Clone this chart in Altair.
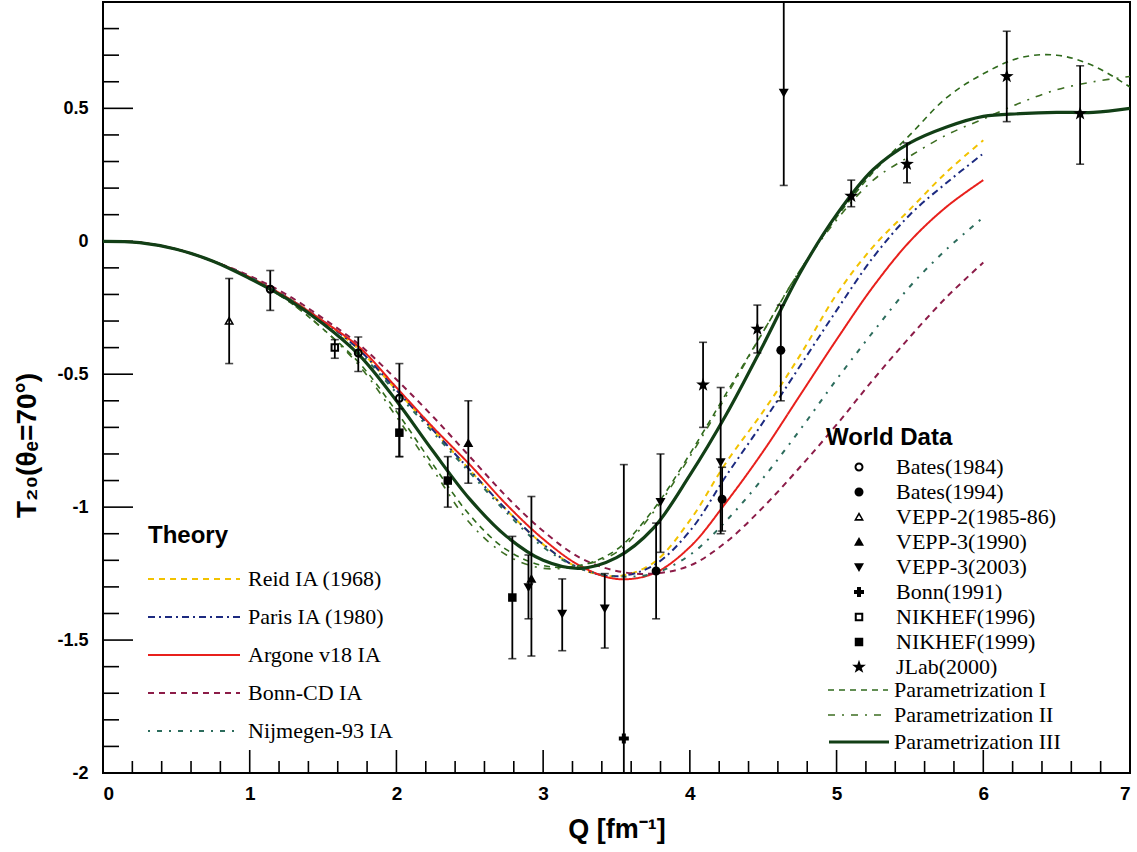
import altair as alt
import pandas as pd

# ---------------- data ----------------
Q_TH = [0, 0.25, 0.5, 0.75, 1.0, 1.25, 1.5, 1.75, 2.0, 2.25, 2.5, 2.75, 3.0,
        3.25, 3.5, 3.75, 4.0, 4.25, 4.5, 4.75, 5.0, 5.25, 5.5, 5.75, 6.0]
REID = [0, -0.005, -0.03, -0.075, -0.135, -0.21, -0.30, -0.41, -0.56, -0.71, -0.86, -1.01, -1.14,
        -1.23, -1.26, -1.21, -1.05, -0.83, -0.64, -0.43, -0.20, -0.02, 0.12, 0.26, 0.38]
PARIS = [0, -0.005, -0.03, -0.075, -0.135, -0.21, -0.30, -0.41, -0.56, -0.71, -0.86, -1.01, -1.14,
         -1.23, -1.26, -1.22, -1.09, -0.88, -0.68, -0.47, -0.26, -0.06, 0.10, 0.22, 0.33]
AV18 = [0, -0.005, -0.03, -0.075, -0.135, -0.21, -0.30, -0.40, -0.55, -0.70, -0.84, -0.99, -1.12,
        -1.22, -1.27, -1.25, -1.15, -0.98, -0.79, -0.58, -0.37, -0.17, 0.0, 0.13, 0.23]
BONN_CD = [0, -0.005, -0.03, -0.075, -0.13, -0.20, -0.29, -0.39, -0.52, -0.66, -0.81, -0.96, -1.09,
           -1.19, -1.24, -1.25, -1.22, -1.13, -1.00, -0.85, -0.69, -0.52, -0.36, -0.21, -0.08]
NIJM93 = [0, -0.005, -0.03, -0.075, -0.135, -0.21, -0.31, -0.42, -0.57, -0.72, -0.87, -1.02, -1.15,
          -1.23, -1.26, -1.25, -1.18, -1.05, -0.89, -0.71, -0.52, -0.34, -0.17, -0.03, 0.09]

Q_PAR = [0, 0.25, 0.5, 0.75, 1.0, 1.25, 1.5, 1.75, 2.0, 2.25, 2.5, 2.75, 3.0, 3.25, 3.5,
         3.75, 4.0, 4.25, 4.5, 4.75, 5.0, 5.25, 5.5, 5.75, 6.0, 6.25, 6.5, 6.75, 7.0]
PAR_I = [0, -0.005, -0.03, -0.075, -0.14, -0.22, -0.33, -0.46, -0.64, -0.84, -1.03, -1.16, -1.22,
         -1.22, -1.16, -1.01, -0.80, -0.57, -0.34, -0.11, 0.09, 0.26, 0.40, 0.54, 0.63, 0.69, 0.70, 0.66, 0.58]
PAR_II = [0, -0.005, -0.03, -0.075, -0.14, -0.22, -0.33, -0.47, -0.66, -0.86, -1.06, -1.18, -1.23,
          -1.22, -1.17, -1.02, -0.81, -0.58, -0.34, -0.11, 0.08, 0.23, 0.32, 0.40, 0.46, 0.52, 0.57, 0.60, 0.62]
PAR_III = [0, -0.005, -0.03, -0.075, -0.14, -0.215, -0.31, -0.43, -0.60, -0.79, -0.97, -1.11, -1.20,
           -1.23, -1.19, -1.08, -0.88, -0.65, -0.39, -0.12, 0.10, 0.27, 0.37, 0.43, 0.47, 0.48, 0.485, 0.485, 0.50]

THEORY_NAMES = ["Reid IA (1968)", "Paris IA (1980)", "Argone v18 IA", "Bonn-CD IA", "Nijmegen-93 IA"]
THEORY_COLORS = ["#f2c200", "#1c2a80", "#e8201c", "#8c1c48", "#2c6c5c"]
THEORY_DASHES = [[6, 5], [7, 4, 2, 4], [1, 0], [6, 5], [2, 7, 5, 7]]

PARAM_NAMES = ["Parametrization I", "Parametrization II"]
PARAM_COLORS = ["#2f6a1c", "#3d6e22"]
PARAM_DASHES = [[6, 5], [7, 7, 2, 7]]
PARAM3_NAME = ["Parametrization III"]
PARAM3_COLOR = ["#123f16"]

DATASETS = ["Bates(1984)", "Bates(1994)", "VEPP-2(1985-86)", "VEPP-3(1990)", "VEPP-3(2003)",
            "Bonn(1991)", "NIKHEF(1996)", "NIKHEF(1999)", "JLab(2000)"]
# marker outlines (unit box, scaled by the mark size)
DOT = "M0.9,0A0.9,0.9 0 1,1 -0.9,0A0.9,0.9 0 1,1 0.9,0Z"
RING = "M0.9,0A0.9,0.9 0 1,1 -0.9,0A0.9,0.9 0 1,1 0.9,0ZM0.5,0A0.5,0.5 0 1,0 -0.5,0A0.5,0.5 0 1,0 0.5,0Z"
TRI_UP = "M0,-1L1,0.75L-1,0.75Z"
OPEN_TRI = "M0,-1L1,0.75L-1,0.75ZM0,-0.35L-0.48,0.42L0.48,0.42Z"
TRI_DOWN = "M0,1L1,-0.75L-1,-0.75Z"
PLUS = "M-0.4,-1H0.4V-0.4H1V0.4H0.4V1H-0.4V0.4H-1V-0.4H-0.4Z"
SQ = "M-0.85,-0.85H0.85V0.85H-0.85Z"
OPEN_SQ = "M-0.85,-0.85H0.85V0.85H-0.85ZM-0.45,-0.45V0.45H0.45V-0.45Z"
STAR = "M0,-1.45L0.34,-0.47L1.38,-0.45L0.55,0.18L0.85,1.17L0,0.58L-0.85,1.17L-0.55,0.18L-1.38,-0.45L-0.34,-0.47Z"
DS_SHAPES = [RING, DOT, OPEN_TRI, TRI_UP, TRI_DOWN, PLUS, OPEN_SQ, SQ, STAR]

PT_SET = ["VEPP-2(1985-86)", "Bates(1984)", "NIKHEF(1996)", "Bates(1984)", "Bates(1984)",
          "NIKHEF(1999)", "NIKHEF(1999)", "VEPP-3(1990)", "NIKHEF(1999)", "VEPP-3(2003)",
          "VEPP-3(1990)", "VEPP-3(2003)", "VEPP-3(2003)", "Bonn(1991)", "Bates(1994)",
          "VEPP-3(2003)", "JLab(2000)", "VEPP-3(2003)", "Bates(1994)", "JLab(2000)",
          "Bates(1994)", "VEPP-3(2003)", "JLab(2000)", "JLab(2000)", "JLab(2000)", "JLab(2000)"]
PT_Q = [0.86, 1.14, 1.58, 1.74, 2.02, 2.02, 2.35, 2.49, 2.79, 2.90, 2.92, 3.13, 3.42, 3.55, 3.77,
        3.80, 4.09, 4.21, 4.22, 4.46, 4.62, 4.64, 5.10, 5.48, 6.16, 6.66]
PT_T = [-0.30, -0.18, -0.40, -0.42, -0.59, -0.72, -0.90, -0.76, -1.34, -1.30, -1.27, -1.40, -1.38,
        -1.87, -1.24, -0.98, -0.54, -0.83, -0.97, -0.33, -0.41, 0.56, 0.17, 0.29, 0.62, 0.48]
PT_LO = [-0.46, -0.26, -0.44, -0.49, -0.81, -0.81, -1.00, -0.91, -1.57, -1.42, -1.56, -1.54, -1.53,
         -2.05, -1.42, -1.17, -0.70, -1.10, -1.09, -0.42, -0.60, 0.21, 0.13, 0.22, 0.45, 0.29]
PT_HI = [-0.14, -0.11, -0.37, -0.36, -0.46, -0.63, -0.81, -0.60, -1.11, -1.18, -0.96, -1.27, -1.25,
         -0.84, -1.06, -0.80, -0.38, -0.55, -0.85, -0.24, -0.24, 1.00, 0.23, 0.37, 0.79, 0.66]

X_MAJOR = [0, 1, 2, 3, 4, 5, 6, 7]
X_MINOR = [i / 5 for i in range(36) if i % 5 != 0]
Y_MAJOR = [-2, -1.5, -1, -0.5, 0, 0.5]
Y_MINOR = [round(-2 + i / 10, 2) for i in range(30) if i % 5 != 0]

# ---------------- tables ----------------
theory_df = pd.DataFrame(
    [{"Q": q, "T": t, "model": n}
     for n, vals in zip(THEORY_NAMES, [REID, PARIS, AV18, BONN_CD, NIJM93])
     for q, t in zip(Q_TH, vals)])
param_df = pd.DataFrame(
    [{"Q": q, "T": t, "param": n}
     for n, vals in zip(PARAM_NAMES, [PAR_I, PAR_II])
     for q, t in zip(Q_PAR, vals)])
param3_df = pd.DataFrame({"Q": Q_PAR, "T": PAR_III, "param3": PARAM3_NAME * len(Q_PAR)})
pts_df = pd.DataFrame({"dataset": PT_SET, "Q": PT_Q, "T": PT_T, "lo": PT_LO, "hi": PT_HI})
xmaj_df = pd.DataFrame({"Q": X_MAJOR})
xmin_df = pd.DataFrame({"Q": X_MINOR})
ymaj_df = pd.DataFrame({"T": Y_MAJOR})
ymin_df = pd.DataFrame({"T": Y_MINOR})

W, H = 1027, 771
AXFONT = "Liberation Sans Narrow, Liberation Sans, Arial"
SERIF = "Liberation Serif, Times New Roman, serif"
SANS = "Liberation Sans, Arial, sans-serif"
INTERP = "catmull-rom"

xs = alt.Scale(domain=[0, 7], nice=False, zero=False)
ys = alt.Scale(domain=[-2, 0.9], nice=False, zero=False)
X_AXIS = alt.Axis(values=X_MAJOR, title="Q [fm⁻¹]", labelFont=AXFONT, labelFontSize=19,
                  labelFontWeight="bold", labelPadding=11, titleFont=SANS, titleFontSize=27,
                  titleFontWeight="bold", titleY=64, titleBaseline="alphabetic",
                  labelExpr="datum.value + ''")
Y_AXIS = alt.Axis(values=Y_MAJOR, title="T₂₀(θₑ=70°)", labelFont=AXFONT, labelFontSize=18,
                  labelFontWeight="bold", labelPadding=15, titleFont=SANS, titleFontSize=28,
                  titleFontWeight="bold", titleX=-76, titleY=443, titleAngle=270,
                  titleAlign="center", titleBaseline="middle",
                  labelExpr="datum.value + ''")


def xq(field="Q"):
    return alt.X(f"{field}:Q", scale=xs, axis=X_AXIS)


def yq(field="T"):
    return alt.Y(f"{field}:Q", scale=ys, axis=Y_AXIS)


LINE92 = "M-4.6,0L4.6,0"
LINE60 = "M-3,0L3,0"

theory_leg = alt.Legend(title="Theory", orient="none", legendX=45, legendY=522, padding=0,
                        symbolType=LINE92, symbolSize=400, symbolStrokeWidth=2,
                        labelFont=SERIF, labelFontSize=22, labelColor="black", labelOffset=43,
                        symbolOffset=35, labelLimit=400,
                        titleFont=SANS, titleFontSize=24, titleFontWeight="bold",
                        titleColor="black", titlePadding=20, rowPadding=16)
theory = alt.Chart(theory_df).mark_line(strokeWidth=2, interpolate=INTERP, clip=True).encode(
    x=xq(), y=yq(),
    color=alt.Color("model:N", scale=alt.Scale(domain=THEORY_NAMES, range=THEORY_COLORS), legend=theory_leg),
    strokeDash=alt.StrokeDash("model:N", scale=alt.Scale(domain=THEORY_NAMES, range=THEORY_DASHES), legend=theory_leg),
)

param_leg = alt.Legend(title="", orient="none", legendX=725, legendY=677, padding=0,
                       symbolType=LINE60, symbolSize=400, symbolStrokeWidth=1.6,
                       labelFont=SERIF, labelFontSize=22, labelColor="black", labelOffset=25,
                       symbolOffset=19, labelLimit=400, rowPadding=3)
params = alt.Chart(param_df).mark_line(strokeWidth=1.6, interpolate=INTERP, clip=True).encode(
    x=xq(), y=yq(),
    color=alt.Color("param:N", scale=alt.Scale(domain=PARAM_NAMES, range=PARAM_COLORS), legend=param_leg),
    strokeDash=alt.StrokeDash("param:N", scale=alt.Scale(domain=PARAM_NAMES, range=PARAM_DASHES), legend=param_leg),
)

param3_leg = alt.Legend(title="", orient="none", legendX=725, legendY=728, padding=0,
                        symbolType=LINE60, symbolSize=400, symbolStrokeWidth=3.2,
                        labelFont=SERIF, labelFontSize=22, labelColor="black", labelOffset=23,
                        symbolOffset=19, labelLimit=400)
param3 = alt.Chart(param3_df).mark_line(strokeWidth=3.2, interpolate=INTERP, clip=True).encode(
    x=xq(), y=yq(),
    color=alt.Color("param3:N", scale=alt.Scale(domain=PARAM3_NAME, range=PARAM3_COLOR), legend=param3_leg),
)

bars = alt.Chart(pts_df).mark_rule(color="black", strokeWidth=1.8, clip=True).encode(
    x=xq(), y=yq("lo"), y2="hi:Q")
cap_lo = alt.Chart(pts_df).mark_tick(color="black", orient="horizontal", size=8, thickness=1.6, clip=True).encode(
    x=xq(), y=yq("lo"))
cap_hi = alt.Chart(pts_df).mark_tick(color="black", orient="horizontal", size=8, thickness=1.6, clip=True).encode(
    x=xq(), y=yq("hi"))

wd_leg = alt.Legend(title="World Data", orient="none", legendX=723, legendY=424, padding=0,
                    labelFont=SERIF, labelFontSize=22, labelColor="black", labelOffset=26,
                    symbolOffset=22, labelLimit=400, titleFont=SANS, titleFontSize=24,
                    titleFontWeight="bold", titleColor="black", titlePadding=6, rowPadding=3,
                    symbolSize=100)
points = alt.Chart(pts_df).mark_point(filled=True, color="black", opacity=1, size=100, clip=True).encode(
    x=xq(), y=yq(),
    shape=alt.Shape("dataset:N", scale=alt.Scale(domain=DATASETS, range=DS_SHAPES), legend=wd_leg),
)

xmaj = alt.Chart(xmaj_df).mark_rule(color="black", strokeWidth=1.6).encode(
    x=xq(), y=alt.value(H), y2=alt.value(H - 23))
xmin = alt.Chart(xmin_df).mark_rule(color="black", strokeWidth=1.6).encode(
    x=xq(), y=alt.value(H), y2=alt.value(H - 12))
ymaj = alt.Chart(ymaj_df).mark_rule(color="black", strokeWidth=1.6).encode(
    y=yq(), x=alt.value(0), x2=alt.value(30))
ymin = alt.Chart(ymin_df).mark_rule(color="black", strokeWidth=1.6).encode(
    y=yq(), x=alt.value(0), x2=alt.value(16))

chart = alt.layer(
    xmaj, xmin, ymaj, ymin, theory, params, param3, bars, cap_lo, cap_hi, points
).resolve_scale(
    color="independent", strokeDash="independent"
).properties(
    width=W, height=H,
    autosize=alt.AutoSizeParams(type="none"),
    padding={"left": 103, "top": 2, "right": 7, "bottom": 79},
    background="white",
).configure_view(
    stroke="black", strokeWidth=2
).configure_axis(
    grid=False, domain=False, ticks=False, labelColor="black", titleColor="black"
)

chart.save("out.html", embed_options={"renderer": "svg", "actions": False})
